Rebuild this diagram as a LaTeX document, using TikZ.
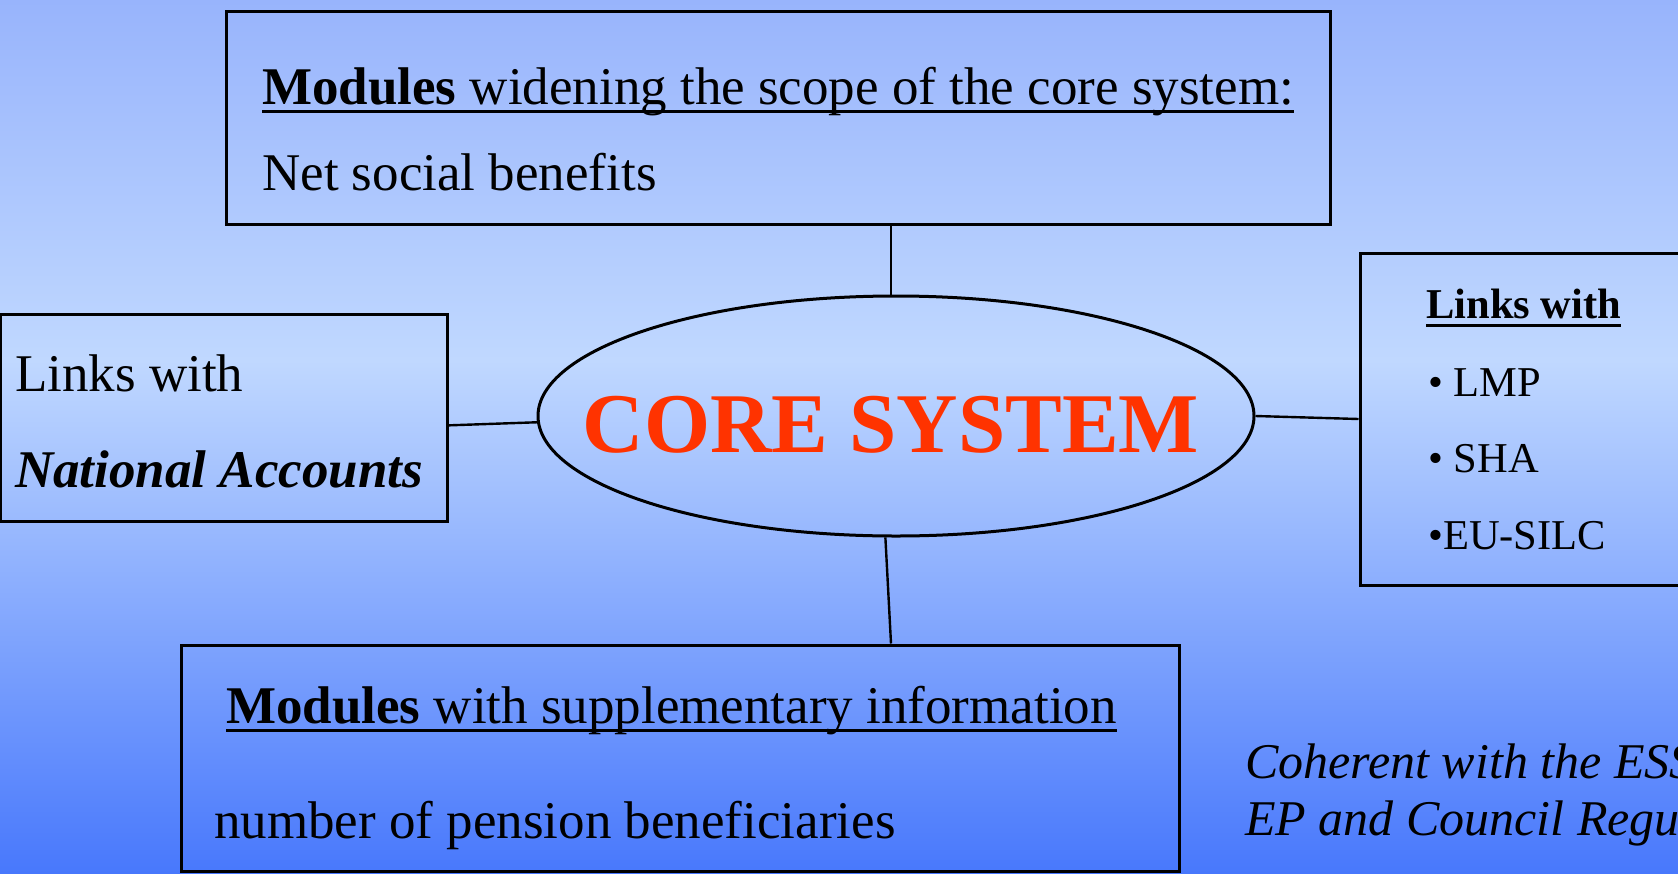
\documentclass[tikz,border=0pt]{standalone}
\usepackage{fontspec}
\setmainfont{Liberation Serif}[ItalicFont={Liberation Serif Italic},BoldItalicFont={Liberation Serif Bold Italic}]
\usetikzlibrary{shapes.geometric}
\definecolor{bgtop}{HTML}{98B4FC}
\definecolor{bgmid}{HTML}{C0D8FF}
\definecolor{bgbot}{HTML}{4878FC}
\definecolor{corered}{HTML}{FF3300}
\newcommand\ulbar[1]{\setbox0\hbox{#1}\makebox[0pt][l]{\rule[-9pt]{\wd0}{3pt}}\box0}
\begin{document}
\begin{tikzpicture}[x=1pt,y=-1pt,
    box/.style={draw,line width=3pt,inner sep=0pt,rectangle},
    txt/.style={anchor=base west,inner sep=0pt,font=\fontsize{53}{64}\selectfont},
    smalltxt/.style={anchor=base west,inner sep=0pt,font=\fontsize{42.5}{50}\selectfont},
    note/.style={anchor=base west,inner sep=0pt,font=\fontsize{50}{60}\selectfont\itshape},
    link/.style={line width=2.4pt}]
    \useasboundingbox (0,0) rectangle (1678,873);
    \clip (0,0) rectangle (1678,873);
    \shade[top color=bgtop,bottom color=bgmid] (0,0) rectangle (1678,361);
    \shade[top color=bgmid,bottom color=bgbot] (0,360) rectangle (1678,873);

    \path (778,117.5) node[box,minimum width=1104pt,minimum height=213pt](widen){};
    \path (262,104) node[txt](widentitle){\ulbar{\textbf{Modules} widening the scope of the core system:}};
    \path (262,190) node[txt](widenitem){Net social benefits};

    \path (223.5,417.5) node[box,minimum width=447pt,minimum height=207pt](nacc){};
    \path (15,391) node[txt](nacctitle){Links with};
    \path (15,487) node[txt](naccitem){\textbf{\textit{National Accounts}}};

    \path (896,416) node[ellipse,draw,line width=3pt,inner sep=0pt,minimum width=716pt,minimum height=240pt](core){};
    \path (891,452) node[anchor=base,inner sep=0pt,text=corered,font=\fontsize{85}{100}\selectfont\bfseries](coretitle){CORE SYSTEM};

    \path (1525,419) node[box,minimum width=330pt,minimum height=332pt](links){};
    \path (1426,318) node[smalltxt,font=\fontsize{42.5}{50}\selectfont\bfseries](linkstitle){\ulbar{Links with}};
    \path (1428,396) node[smalltxt](lmp){• LMP};
    \path (1428,472) node[smalltxt](sha){• SHA};
    \path (1428,549) node[smalltxt](silc){•EU-SILC};

    \path (680,758) node[box,minimum width=998pt,minimum height=226pt](suppl){};
    \path (226,723) node[txt](suppltitle){\ulbar{\textbf{Modules} with supplementary information}};
    \path (214,838) node[txt](supplitem){number of pension beneficiaries};

    \path (1245,778) node[note](coherent){Coherent with the ESS};
    \path (1245,835) node[note](regul){EP and Council Regul};

    \draw[link] (coretitle.north |- widen.south) -- (coretitle.north |- core.north);
    \draw[link] (nacc.-2) -- (core.181.3);
    \draw[link] (core.east) -- (links.west);
    \draw[link] (core.265) -- (coretitle.north |- suppl.north);
\end{tikzpicture}
\end{document}
